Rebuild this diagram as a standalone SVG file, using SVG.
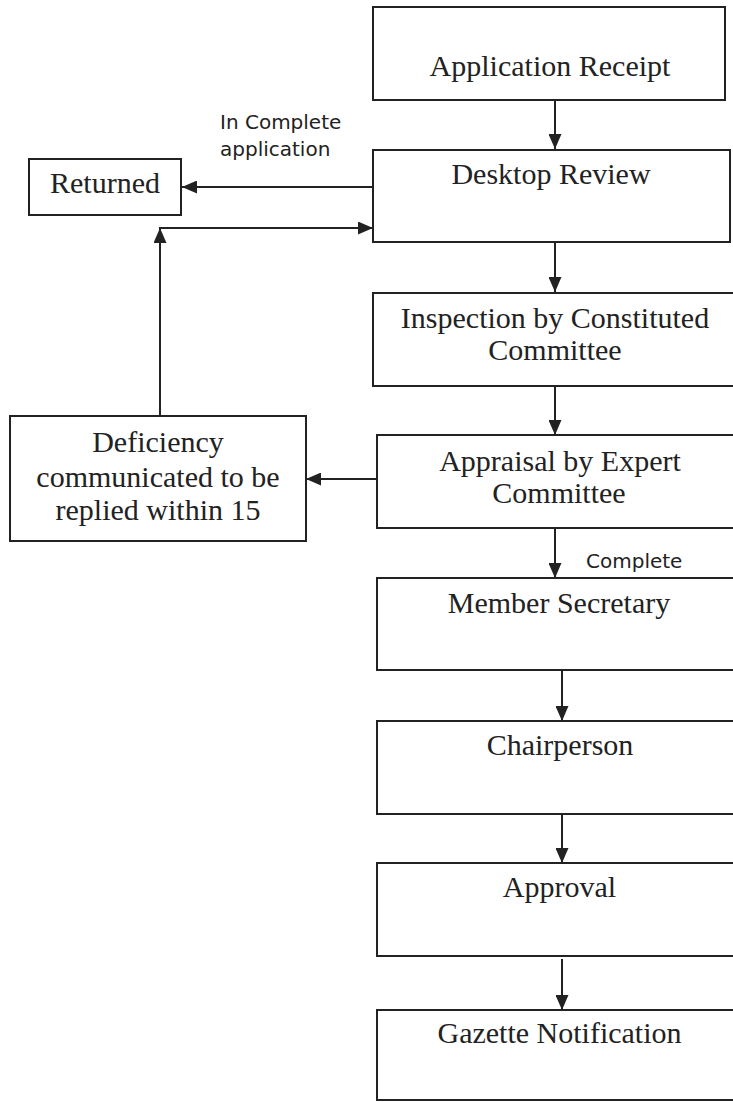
<svg xmlns="http://www.w3.org/2000/svg" width="733" height="1102" viewBox="0 0 733 1102">
<defs>
<style>
.box{fill:#fff;stroke:#222;stroke-width:2}
.t{font-family:"Liberation Serif","Times New Roman",serif;font-size:30px;fill:#222;text-anchor:middle}
.lbl{font-family:"DejaVu Sans",Verdana,sans-serif;font-size:20px;fill:#222}
.ln{fill:none;stroke:#222;stroke-width:2}
</style>
<marker id="ah" markerUnits="userSpaceOnUse" viewBox="0 0 15 13" refX="15" refY="6.5" markerWidth="15" markerHeight="13" orient="auto">
<path d="M0,0 L15,6.5 L0,13 z" fill="#222"/>
</marker>
</defs>
<rect width="733" height="1102" fill="#fff"/>
<g id="connectors">
<line class="ln" x1="555" y1="100" x2="555" y2="149" marker-end="url(#ah)"/>
<line class="ln" x1="373" y1="187" x2="182" y2="187" marker-end="url(#ah)"/>
<line class="ln" x1="160" y1="416" x2="160" y2="228" marker-end="url(#ah)"/>
<line class="ln" x1="159" y1="228" x2="373" y2="228" marker-end="url(#ah)"/>
<line class="ln" x1="555" y1="243" x2="555" y2="292" marker-end="url(#ah)"/>
<line class="ln" x1="555" y1="386" x2="555" y2="435" marker-end="url(#ah)"/>
<line class="ln" x1="377" y1="479" x2="306" y2="479" marker-end="url(#ah)"/>
<line class="ln" x1="555" y1="528" x2="555" y2="578" marker-end="url(#ah)"/>
<line class="ln" x1="562" y1="670" x2="562" y2="721" marker-end="url(#ah)"/>
<line class="ln" x1="562" y1="814" x2="562" y2="863" marker-end="url(#ah)"/>
<line class="ln" x1="562" y1="959" x2="562" y2="1010" marker-end="url(#ah)"/>
<text class="lbl" x="220" y="129">In Complete</text>
<text class="lbl" x="220" y="156">application</text>
<text class="lbl" x="586" y="568">Complete</text>
</g>
<g id="app-receipt">
<rect class="box" x="373" y="7" width="352" height="93"/>
<text class="t" x="550" y="76">Application Receipt</text>
</g>
<g id="desktop-review">
<rect class="box" x="373" y="150" width="357" height="92"/>
<text class="t" x="551" y="184">Desktop Review</text>
</g>
<g id="returned">
<rect class="box" x="29" y="159" width="152" height="56"/>
<text class="t" x="105" y="193">Returned</text>
</g>
<g id="inspection">
<rect class="box" x="373" y="293" width="365" height="93"/>
<text class="t" x="555" y="328">Inspection by Constituted</text>
<text class="t" x="555" y="360">Committee</text>
</g>
<g id="appraisal">
<rect class="box" x="377" y="435" width="361" height="93"/>
<text class="t" x="560" y="471">Appraisal by Expert</text>
<text class="t" x="559" y="503">Committee</text>
</g>
<g id="deficiency">
<rect class="box" x="10" y="416" width="296" height="125"/>
<text class="t" x="158" y="452">Deficiency</text>
<text class="t" x="158" y="487">communicated to be</text>
<text class="t" x="158" y="520">replied within 15</text>
</g>
<g id="member-secretary">
<rect class="box" x="377" y="578" width="361" height="92"/>
<text class="t" x="559" y="613">Member Secretary</text>
</g>
<g id="chairperson">
<rect class="box" x="377" y="721" width="361" height="93"/>
<text class="t" x="560" y="755">Chairperson</text>
</g>
<g id="approval">
<rect class="box" x="377" y="863" width="361" height="93"/>
<text class="t" x="559.5" y="897">Approval</text>
</g>
<g id="gazette">
<rect class="box" x="377" y="1010" width="361" height="90"/>
<text class="t" x="559.5" y="1043">Gazette Notification</text>
</g>
</svg>
